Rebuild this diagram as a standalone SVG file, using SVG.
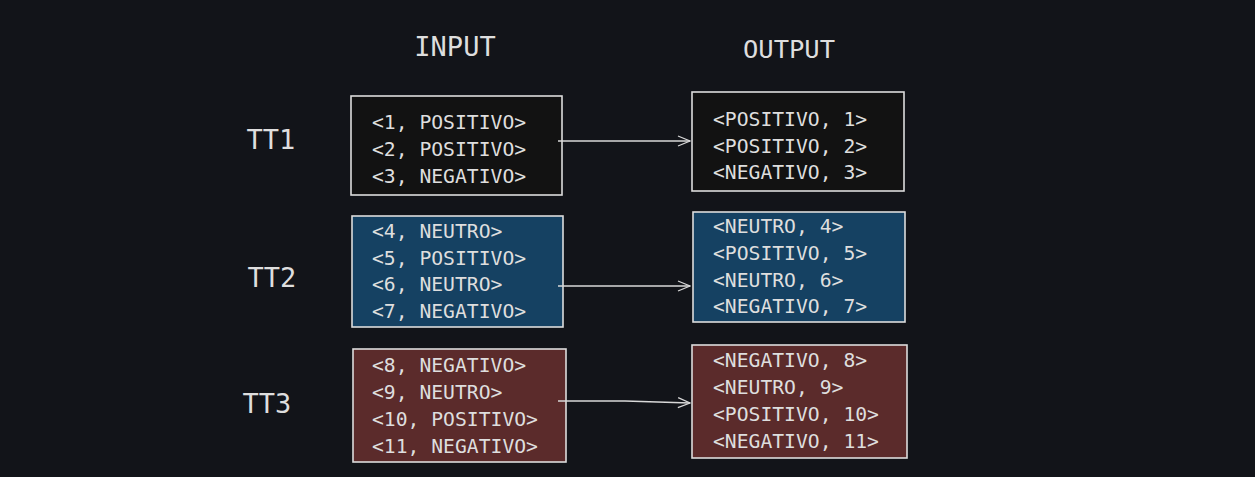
<svg xmlns="http://www.w3.org/2000/svg" width="1255" height="477" viewBox="0 0 1255 477">
<defs>
<marker id="arr" markerWidth="14" markerHeight="12" refX="13" refY="6" orient="auto" markerUnits="userSpaceOnUse">
<path d="M1,1 L13,6 L1,11" fill="none" stroke="#d8d8d8" stroke-width="1.3"/>
</marker>
</defs>
<style>
.bg{fill:#121419}
.box{stroke:#dcdcdc;stroke-width:1.6}
.k{fill:#121212}
.b{fill:#154162}
.r{fill:#5b2b2b}
.t{font-family:"DejaVu Sans Mono","Liberation Mono",monospace;font-size:19.7px;fill:#dedede}
.h{font-family:"DejaVu Sans Mono","Liberation Mono",monospace;font-size:27px;fill:#dedede}
.c{stroke:#d8d8d8;stroke-width:1.3;fill:none}
</style>
<rect class="bg" x="0" y="0" width="1255" height="477"/>
<g id="headers">
<text class="h" x="455" y="56" text-anchor="middle">INPUT</text>
<text class="h" x="789" y="58" text-anchor="middle" style="font-size:25.5px">OUTPUT</text>
</g>
<g id="labels">
<text class="h" x="271" y="149" text-anchor="middle">TT1</text>
<text class="h" x="272" y="287" text-anchor="middle">TT2</text>
<text class="h" x="267" y="413" text-anchor="middle">TT3</text>
</g>
<g id="in1">
<rect class="box k" x="351" y="96" width="211" height="99"/>
<text class="t" x="372" y="129">&lt;1, POSITIVO&gt;</text>
<text class="t" x="372" y="156">&lt;2, POSITIVO&gt;</text>
<text class="t" x="372" y="183">&lt;3, NEGATIVO&gt;</text>
</g>
<g id="out1">
<rect class="box k" x="692" y="92" width="212" height="99"/>
<text class="t" x="713" y="126">&lt;POSITIVO, 1&gt;</text>
<text class="t" x="713" y="153">&lt;POSITIVO, 2&gt;</text>
<text class="t" x="713" y="179">&lt;NEGATIVO, 3&gt;</text>
</g>
<g id="in2">
<rect class="box b" x="352" y="216" width="211" height="111"/>
<text class="t" x="372" y="238">&lt;4, NEUTRO&gt;</text>
<text class="t" x="372" y="265">&lt;5, POSITIVO&gt;</text>
<text class="t" x="372" y="291">&lt;6, NEUTRO&gt;</text>
<text class="t" x="372" y="318">&lt;7, NEGATIVO&gt;</text>
</g>
<g id="out2">
<rect class="box b" x="693" y="212" width="212" height="110"/>
<text class="t" x="713" y="233">&lt;NEUTRO, 4&gt;</text>
<text class="t" x="713" y="260">&lt;POSITIVO, 5&gt;</text>
<text class="t" x="713" y="287">&lt;NEUTRO, 6&gt;</text>
<text class="t" x="713" y="313">&lt;NEGATIVO, 7&gt;</text>
</g>
<g id="in3">
<rect class="box r" x="353" y="349" width="213" height="113"/>
<text class="t" x="372" y="372">&lt;8, NEGATIVO&gt;</text>
<text class="t" x="372" y="399">&lt;9, NEUTRO&gt;</text>
<text class="t" x="372" y="426">&lt;10, POSITIVO&gt;</text>
<text class="t" x="372" y="453">&lt;11, NEGATIVO&gt;</text>
</g>
<g id="out3">
<rect class="box r" x="692" y="345" width="215" height="113"/>
<text class="t" x="713" y="367">&lt;NEGATIVO, 8&gt;</text>
<text class="t" x="713" y="394">&lt;NEUTRO, 9&gt;</text>
<text class="t" x="713" y="421">&lt;POSITIVO, 10&gt;</text>
<text class="t" x="713" y="448">&lt;NEGATIVO, 11&gt;</text>
</g>
<g id="connectors">
<path class="c" d="M558,141 L690,141" marker-end="url(#arr)"/>
<path class="c" d="M558,286 L690,286" marker-end="url(#arr)"/>
<path class="c" d="M558,401 L625,401 L690,403" marker-end="url(#arr)"/>
</g>
</svg>
